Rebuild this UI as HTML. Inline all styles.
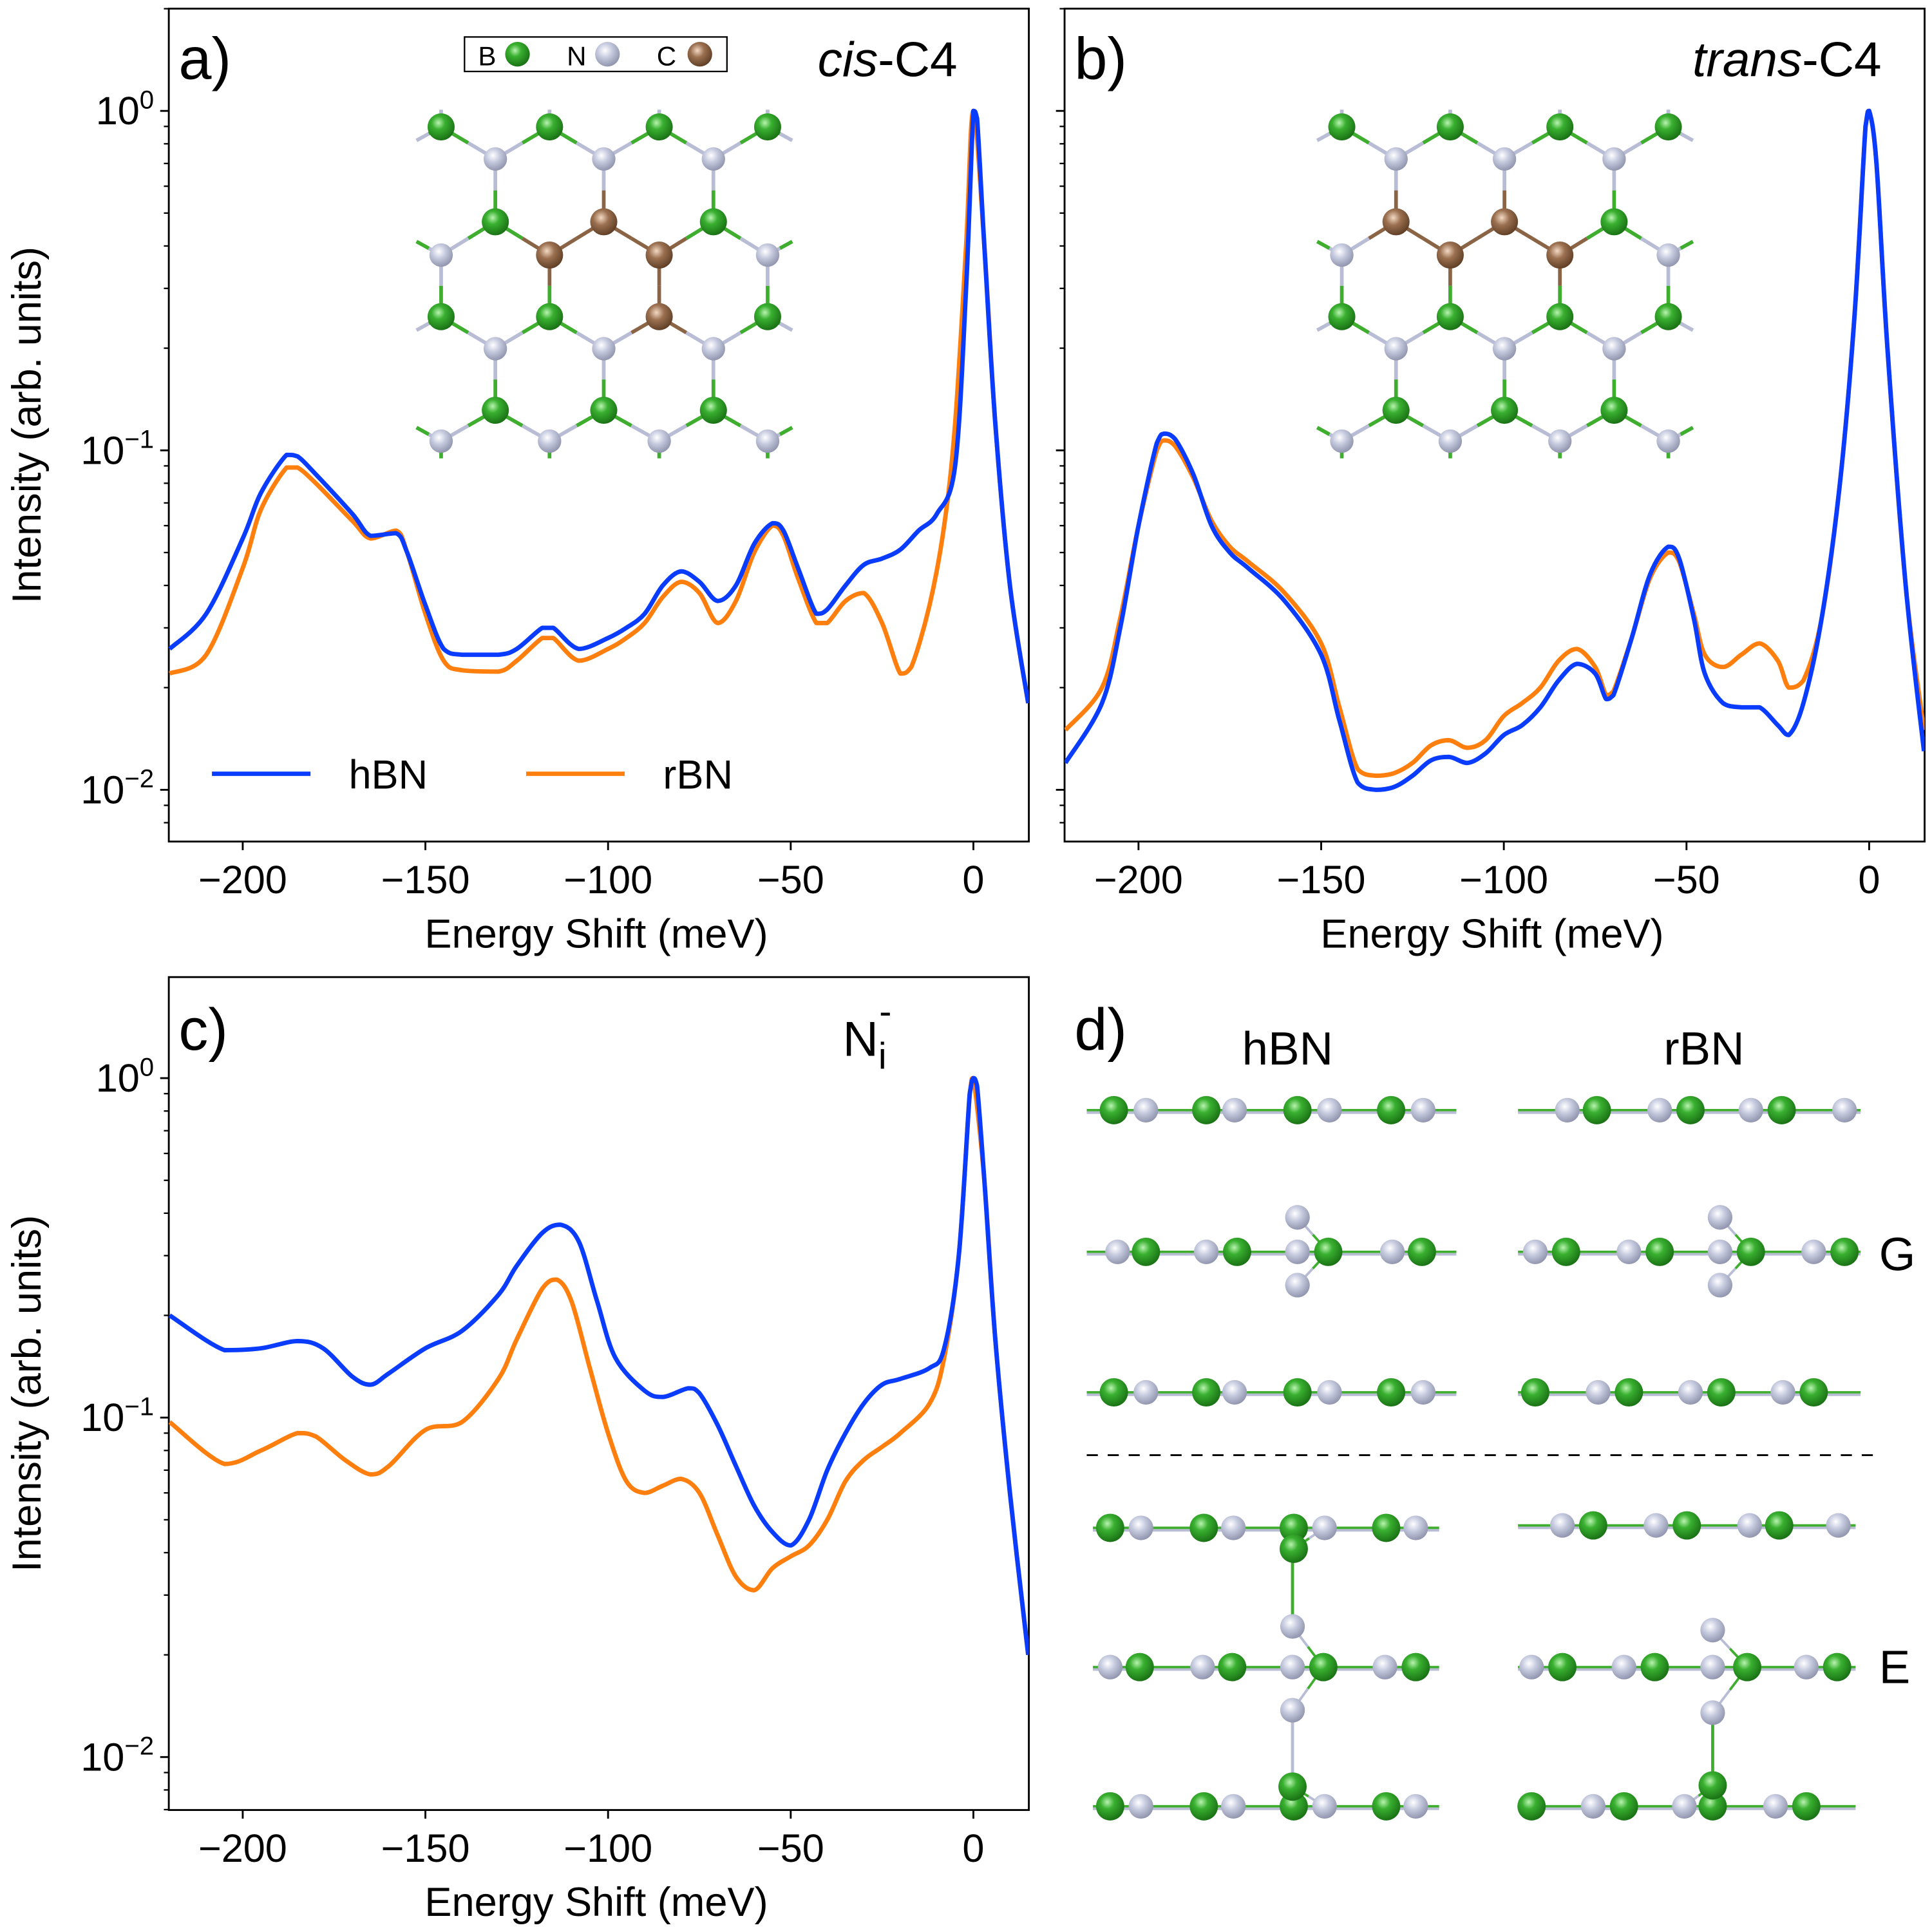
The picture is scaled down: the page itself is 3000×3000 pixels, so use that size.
<!DOCTYPE html>
<html><head><meta charset="utf-8"><style>
html,body{margin:0;padding:0;background:#fff}
svg{display:block;font-family:"Liberation Sans",sans-serif}
</style></head><body>
<svg id="fig" width="3000" height="3000" viewBox="0 0 1568 1568" xmlns="http://www.w3.org/2000/svg">
<defs>
<radialGradient id="gB" cx="0.4" cy="0.35" r="0.7"><stop offset="0" stop-color="#b9f3b0"/><stop offset="0.35" stop-color="#39b030"/><stop offset="1" stop-color="#176b12"/></radialGradient>
<radialGradient id="gN" cx="0.4" cy="0.35" r="0.7"><stop offset="0" stop-color="#ffffff"/><stop offset="0.4" stop-color="#c8cce0"/><stop offset="1" stop-color="#8b8fa8"/></radialGradient>
<radialGradient id="gC" cx="0.4" cy="0.35" r="0.7"><stop offset="0" stop-color="#f3d9c4"/><stop offset="0.4" stop-color="#9b7050"/><stop offset="1" stop-color="#5a3a22"/></radialGradient>
<clipPath id="clipA"><rect x="137" y="7" width="698" height="676"/></clipPath>
<clipPath id="clipB"><rect x="864" y="7" width="698" height="676"/></clipPath>
<clipPath id="clipC"><rect x="137" y="793" width="698" height="676"/></clipPath>
</defs>
<g id="root"></g>
</svg>
<script>
// ---- panel a (cis-C4) ----
const aHX=[-220,-210,-200,-195,-188,-185,-180,-170,-165,-158,-155,-150,-145,-140,-130,-125,-118,-115,-108,-100,-95,-90,-85,-80,-75,-70,-65,-60,-55,-52,-48,-43,-40,-35,-30,-25,-20,-15,-10,-5,-2,0,1,3,6,10,15];
const aHY=[0.026,0.033,0.055,0.075,0.097,0.096,0.085,0.065,0.056,0.057,0.05,0.035,0.026,0.025,0.025,0.026,0.030,0.030,0.026,0.028,0.030,0.033,0.040,0.044,0.041,0.036,0.040,0.053,0.061,0.058,0.045,0.033,0.034,0.040,0.046,0.048,0.051,0.058,0.065,0.09,0.3,1.0,0.95,0.4,0.12,0.04,0.018];
const aRX=[-220,-210,-200,-195,-188,-185,-180,-170,-165,-158,-155,-150,-145,-140,-130,-125,-118,-115,-108,-100,-95,-90,-85,-80,-75,-70,-65,-60,-55,-52,-48,-43,-40,-35,-30,-25,-20,-17,-12,-8,-5,-2,0,3,6,10,15];
const aRY=[0.022,0.025,0.045,0.067,0.089,0.089,0.080,0.062,0.055,0.058,0.05,0.033,0.024,0.0225,0.0223,0.024,0.028,0.028,0.024,0.026,0.028,0.031,0.037,0.041,0.038,0.031,0.036,0.050,0.060,0.056,0.042,0.031,0.031,0.036,0.038,0.031,0.022,0.023,0.035,0.06,0.12,0.4,1.0,0.4,0.12,0.04,0.018];
// ---- panel b (trans-C4) ----
const bX=[-220,-210,-205,-200,-195,-193,-190,-185,-180,-175,-170,-160,-150,-145,-140,-135,-130,-125,-120,-115,-110,-105,-100,-95,-90,-85,-80,-75,-72,-70,-65,-60,-55,-52,-48,-45,-40,-35,-30,-25,-22,-18,-13,-8,-4,-1,0,2,5,10,15];
const bHY=[0.012,0.018,0.03,0.06,0.105,0.112,0.108,0.085,0.060,0.050,0.045,0.036,0.025,0.016,0.0105,0.0100,0.0102,0.0110,0.0122,0.0125,0.0120,0.0128,0.0145,0.0155,0.0175,0.021,0.0235,0.022,0.0185,0.019,0.028,0.043,0.052,0.048,0.032,0.022,0.018,0.0175,0.0175,0.0155,0.0145,0.018,0.032,0.08,0.25,0.9,1.0,0.7,0.2,0.04,0.013];
const bRY=[0.015,0.02,0.032,0.06,0.10,0.107,0.103,0.083,0.062,0.052,0.047,0.038,0.027,0.0175,0.0115,0.011,0.0112,0.012,0.0135,0.014,0.0133,0.014,0.0165,0.018,0.020,0.024,0.026,0.023,0.019,0.0195,0.028,0.042,0.050,0.047,0.033,0.025,0.023,0.025,0.027,0.024,0.020,0.021,0.032,0.08,0.25,0.9,1.0,0.7,0.2,0.04,0.015];
// ---- panel c (Ni-) ----
const cX=[-220,-205,-195,-185,-178,-170,-165,-160,-150,-140,-130,-125,-118,-113,-108,-103,-98,-90,-85,-78,-75,-70,-65,-60,-55,-50,-45,-40,-35,-30,-25,-20,-12,-8,-4,-1,0,1,3,6,10,15];
const cHY=[0.20,0.158,0.16,0.168,0.160,0.132,0.125,0.135,0.160,0.18,0.23,0.28,0.35,0.37,0.33,0.22,0.15,0.12,0.115,0.122,0.118,0.095,0.072,0.055,0.046,0.042,0.05,0.07,0.09,0.11,0.125,0.13,0.14,0.16,0.3,0.9,1.0,0.95,0.5,0.17,0.06,0.02];
const cRX=[-220,-205,-195,-185,-180,-172,-165,-160,-150,-140,-130,-125,-118,-114,-110,-105,-100,-95,-90,-85,-80,-75,-70,-65,-60,-55,-50,-45,-40,-35,-30,-25,-20,-12,-8,-4,-1,0,3,6,10,15];
const cRY=[0.097,0.073,0.08,0.09,0.088,0.075,0.068,0.072,0.092,0.097,0.13,0.17,0.24,0.255,0.22,0.14,0.09,0.065,0.06,0.063,0.066,0.06,0.045,0.034,0.031,0.036,0.039,0.042,0.05,0.065,0.075,0.082,0.09,0.11,0.15,0.3,0.9,1.0,0.5,0.17,0.06,0.02];
const xTicks=[-200,-150,-100,-50,0];
const xTickLabels=["\u2212200","\u2212150","\u2212100","\u221250","0"];
const yDecades=[0,-1,-2];
const yTickLabels=["0","\u22121","\u22122"];

const NS="http://www.w3.org/2000/svg";
const root=document.getElementById('root');
function mk(tag,attrs,parent){const e=document.createElementNS(NS,tag);for(const k in attrs)e.setAttribute(k,attrs[k]);(parent||root).appendChild(e);return e;}
function txt(s,attrs,parent){const e=mk('text',attrs,parent);e.textContent=s;return e;}

function makeAxes(L,T,W,H,x0px,y0px){
  return {L,T,W,H,x:v=>x0px+2.965*v,y:v=>y0px-275.5*Math.log10(v)};
}
function curve(ax,xs,ys,color,clip,name){
  const p=xs.map((v,i)=>[ax.x(v),ax.y(ys[i])]);
  let d=`M${p[0][0].toFixed(2)},${p[0][1].toFixed(2)}`;
  const cl=(v,a,b)=>Math.max(Math.min(a,b),Math.min(Math.max(a,b),v));
  for(let i=0;i<p.length-1;i++){
    const p0=p[i-1]||p[i],p1=p[i],p2=p[i+1],p3=p[i+2]||p[i+1];
    const t=1/6;
    const c1=[p1[0]+(p2[0]-p0[0])*t,cl(p1[1]+(p2[1]-p0[1])*t,p1[1],p2[1])];
    const c2=[p2[0]-(p3[0]-p1[0])*t,cl(p2[1]-(p3[1]-p1[1])*t,p1[1],p2[1])];
    d+=`C${c1[0].toFixed(2)},${c1[1].toFixed(2)} ${c2[0].toFixed(2)},${c2[1].toFixed(2)} ${p2[0].toFixed(2)},${p2[1].toFixed(2)}`;
  }
  const e=mk('path',{d,fill:'none',stroke:color,'stroke-width':3.6,'stroke-linejoin':'round','clip-path':`url(#${clip})`});
  
  
}
function frame(ax,pre,showYLabel){
  const g=mk('g',{});
  
  
  mk('rect',{x:ax.L,y:ax.T,width:ax.W,height:ax.H,fill:'none',stroke:'#000','stroke-width':1.5},g);
  const B=ax.T+ax.H;
  xTicks.forEach((v,i)=>{
    const X=ax.x(v);
    mk('line',{x1:X,y1:B,x2:X,y2:B+7,stroke:'#000','stroke-width':1.5},g);
    const t=txt(xTickLabels[i],{x:X,y:B+42,'font-size':32,'text-anchor':'middle'},g);
    
    
  });
  yDecades.forEach((k,i)=>{
    const Y=ax.y(Math.pow(10,k));
    mk('line',{x1:ax.L,y1:Y,x2:ax.L-7,y2:Y,stroke:'#000','stroke-width':1.5},g);
    if(!showYLabel)return;
    const t=txt('',{x:ax.L-12,y:Y+11,'font-size':32,'text-anchor':'end'},g);
    
    
    const a=document.createElementNS(NS,'tspan');a.textContent='10';t.appendChild(a);
    const b=document.createElementNS(NS,'tspan');b.textContent=yTickLabels[i];b.setAttribute('font-size',21);b.setAttribute('dy',-13);t.appendChild(b);
  });
  for(let k=-3;k<=0;k++)for(let m=2;m<=9;m++){
    const Y=ax.y(m*Math.pow(10,k));
    if(Y<ax.T||Y>B)continue;
    mk('line',{x1:ax.L,y1:Y,x2:ax.L-4,y2:Y,stroke:'#000','stroke-width':1.2},g);
  }
  const xl=txt('Energy Shift (meV)',{x:ax.L+ax.W/2-2,y:B+86,'font-size':33,'text-anchor':'middle'},g);
  
  
  if(showYLabel){
    const yl=txt('Intensity (arb. units)',{x:0,y:0,'font-size':33,'text-anchor':'middle',transform:`translate(33,${ax.T+ax.H/2}) rotate(-90)`},g);
    
    
  }
}
const axA=makeAxes(137,7,698,676,790,90);
const axB=makeAxes(864,7,698,676,1517,90);
const axC=makeAxes(137,793,698,676,790,875);
frame(axA,'panel-a',true);frame(axB,'panel-b',false);frame(axC,'panel-c',true);

const COL={B:'url(#gB)',N:'url(#gN)',C:'url(#gC)'};
const BOND={B:'#3fae2f',N:'#b8bcd4',C:'#8a6444'};
function atom(x,y,t,r,g){const e=mk('circle',{cx:x,cy:y,r:r||10,fill:COL[t]},g);}
function bond(x1,y1,t1,x2,y2,t2,g,w){
  const mx=(x1+x2)/2,my=(y1+y2)/2;
  mk('line',{x1,y1,x2:mx,y2:my,stroke:BOND[t1],'stroke-width':w||3},g);
  mk('line',{x1:mx,y1:my,x2,y2,stroke:BOND[t2],'stroke-width':w||3},g);
}
function lattice(dx,carbons,name){
  const g=mk('g',{});
  
  
  const rowsY=[103,129,180,207,257,283,333,358];
  const xsA=[358,446,535,623],xsB=[402,490,579];
  const atoms=[];
  rowsY.forEach((y,ri)=>{
    const xs=(ri%4===0||ri%4===3)?xsA:xsB;
    const type=(ri%2===0)?'B':'N';
    xs.forEach(x=>atoms.push({x:x+dx,y,t:carbons.includes(`${x},${y}`)?'C':type,ri}));
  });
  atoms.forEach(a=>{
    atoms.forEach(b=>{
      if(b.ri<=a.ri)return;
      const dxp=Math.abs(a.x-b.x),dyp=b.y-a.y;
      if((dxp<3&&dyp>40&&dyp<60&&b.ri===a.ri+1)||(dxp>40&&dxp<50&&dyp>20&&dyp<30&&b.ri===a.ri+1))bond(a.x,a.y,a.t,b.x,b.y,b.t,g);
    });
  });
  atoms.forEach(a=>{
    if(a.ri===0)bond(a.x,a.y,a.t,a.x,a.y-14,'N',g);
    if(a.ri===7)bond(a.x,a.y,a.t,a.x,a.y+14,'B',g);
    if(a.x-dx===358&&(a.ri===0||a.ri===4))bond(a.x,a.y,a.t,a.x-20,a.y+11,'N',g);
    if(a.x-dx===623&&(a.ri===0||a.ri===4))bond(a.x,a.y,a.t,a.x+20,a.y+11,'N',g);
    if(a.x-dx===358&&(a.ri===3||a.ri===7))bond(a.x,a.y,a.t,a.x-20,a.y-11,'B',g);
    if(a.x-dx===623&&(a.ri===3||a.ri===7))bond(a.x,a.y,a.t,a.x+20,a.y-11,'B',g);
  });
  atoms.forEach(a=>atom(a.x,a.y,a.t,a.t==='N'?9.5:11,g));
}
lattice(0,['490,180','446,207','535,207','535,257'],'cis-c4-lattice');
lattice(731,['402,180','490,180','446,207','535,207'],'trans-c4-lattice');

curve(axA,aRX,aRY,'#ff7f0e','clipA','rbn-line-a');
curve(axA,aHX,aHY,'#0a3cff','clipA','hbn-line-a');
curve(axB,bX,bRY,'#ff7f0e','clipB','rbn-line-b');
curve(axB,bX,bHY,'#0a3cff','clipB','hbn-line-b');
curve(axC,cRX,cRY,'#ff7f0e','clipC','rbn-line-c');
curve(axC,cX,cHY,'#0a3cff','clipC','hbn-line-c');

function layer(y,x1,x2,list,extra,name){
  const g=mk('g',{});
  
  
  mk('line',{x1,y1:y,x2,y2:y,stroke:'#3fae2f','stroke-width':2},g);
  mk('line',{x1,y1:y+2,x2,y2:y+2,stroke:'#b8bcd4','stroke-width':2},g);
  (extra||[]).forEach(e=>{list.forEach(a=>{if(Math.abs(a[0]-e[0])<30&&Math.abs(a[0]-e[0])>5)bond(e[0],e[1],e[2],a[0],y,a[1],g,2);});});
  list.forEach(a=>atom(a[0],y,a[1],a[1]==='N'?10:11.5,g));
  (extra||[]).forEach(e=>atom(e[0],e[1],e[2],e[2]==='N'?10:11.5,g));
}
const hL=[[904,'B'],[930,'N'],[979,'B'],[1002,'N'],[1053,'B'],[1079,'N'],[1129,'B'],[1155,'N']];
const hM=[[907,'N'],[930,'B'],[979,'N'],[1004,'B'],[1053,'N'],[1078,'B'],[1130,'N'],[1154,'B']];
layer(901,882,1182,hL,[],'hbn-g-layer-1');
layer(1016,882,1182,hM,[[1053,988,'N'],[1053,1043,'N']],'hbn-g-layer-2');
layer(1130,882,1182,hL,[],'hbn-g-layer-3');
layer(901,1232,1510,[[1272,'N'],[1296,'B'],[1347,'N'],[1372,'B'],[1421,'N'],[1446,'B'],[1497,'N']],[],'rbn-g-layer-1');
layer(1016,1232,1510,[[1246,'N'],[1271,'B'],[1322,'N'],[1347,'B'],[1396,'N'],[1421,'B'],[1472,'N'],[1497,'B']],[[1396,988,'N'],[1396,1043,'N']],'rbn-g-layer-2');
layer(1130,1232,1510,[[1246,'B'],[1297,'N'],[1322,'B'],[1372,'N'],[1397,'B'],[1447,'N'],[1472,'B']],[],'rbn-g-layer-3');
mk('line',{x1:1049,y1:1260,x2:1049,y2:1320,stroke:'#3fae2f','stroke-width':2.5});
mk('line',{x1:1049,y1:1388,x2:1049,y2:1450,stroke:'#b8bcd4','stroke-width':2.5});
mk('line',{x1:1390,y1:1390,x2:1390,y2:1449,stroke:'#3fae2f','stroke-width':2.5});
const hE1=[[901,'B'],[926,'N'],[977,'B'],[1001,'N'],[1050,'B'],[1075,'N'],[1125,'B'],[1149,'N']];
layer(1240,887,1168,hE1,[[1050,1257,'B']],'hbn-e-layer-1');
layer(1353,887,1168,[[901,'N'],[925,'B'],[976,'N'],[1000,'B'],[1049,'N'],[1074,'B'],[1124,'N'],[1149,'B']],[[1049,1320,'N'],[1049,1388,'N']],'hbn-e-layer-2');
layer(1466,887,1168,hE1.map(a=>[a[0],a[1]]),[[1049,1450,'B']],'hbn-e-layer-3');
layer(1238,1232,1506,[[1268,'N'],[1293,'B'],[1344,'N'],[1369,'B'],[1420,'N'],[1444,'B'],[1492,'N']],[],'rbn-e-layer-1');
layer(1353,1232,1506,[[1243,'N'],[1268,'B'],[1318,'N'],[1343,'B'],[1390,'N'],[1418,'B'],[1466,'N'],[1491,'B']],[[1390,1323,'N'],[1390,1390,'N']],'rbn-e-layer-2');
layer(1466,1232,1506,[[1243,'B'],[1293,'N'],[1318,'B'],[1367,'N'],[1390,'B'],[1441,'N'],[1466,'B']],[[1390,1449,'B']],'rbn-e-layer-3');
</script>
<script>
(function(){
const NS="http://www.w3.org/2000/svg";const svg=document.getElementById('fig');
function t(s,a,name){const e=document.createElementNS(NS,'text');for(const k in a)e.setAttribute(k,a[k]);e.innerHTML=s;


svg.appendChild(e);return e;}
t('a)',{x:145,y:64,'font-size':48},'panel-a-label');
t('b)',{x:872,y:64,'font-size':48},'panel-b-label');
t('c)',{x:145,y:852,'font-size':48},'panel-c-label');
t('d)',{x:872,y:852,'font-size':48},'panel-d-label');
t('<tspan font-style="italic">cis</tspan>-C4',{x:777,y:62,'font-size':40,'text-anchor':'end'},'panel-a-title');
t('<tspan font-style="italic">trans</tspan>-C4',{x:1527,y:62,'font-size':40,'text-anchor':'end'},'panel-b-title');
t('N<tspan font-size="30" dy="10">i</tspan><tspan font-size="30" dx="-6" dy="-36">-</tspan>',{x:684,y:857,'font-size':40},'panel-c-title');
t('hBN',{x:1045,y:864,'font-size':38,'text-anchor':'middle'},'hbn-column-title');
t('rBN',{x:1383,y:864,'font-size':38,'text-anchor':'middle'},'rbn-column-title');
t('G',{x:1525,y:1031,'font-size':38},'g-config-label');
t('E',{x:1525,y:1366,'font-size':38},'e-config-label');
const dl=document.createElementNS(NS,'line');
dl.setAttribute('x1',882);dl.setAttribute('y1',1181);dl.setAttribute('x2',1522);dl.setAttribute('y2',1181);
dl.setAttribute('stroke','#000');dl.setAttribute('stroke-width',1.5);dl.setAttribute('stroke-dasharray','9,8');


svg.appendChild(dl);
const lg=document.createElementNS(NS,'g');


svg.appendChild(lg);
lg.innerHTML='<line x1="172" y1="628" x2="252" y2="628" stroke="#0a3cff" stroke-width="3.5"/><text x="283" y="640" font-size="33">hBN</text><line x1="427" y1="628" x2="507" y2="628" stroke="#ff7f0e" stroke-width="3.5"/><text x="538" y="640" font-size="33">rBN</text>';
const al=document.createElementNS(NS,'g');


svg.appendChild(al);
al.innerHTML='<rect x="377" y="30" width="213" height="28" fill="#fff" stroke="#000" stroke-width="1.2"/><text x="388" y="53" font-size="22">B</text><circle cx="420" cy="44" r="10" fill="url(#gB)"/><text x="460" y="53" font-size="22">N</text><circle cx="493" cy="44" r="10" fill="url(#gN)"/><text x="533" y="53" font-size="22">C</text><circle cx="568" cy="44" r="10" fill="url(#gC)"/>';
})();
</script>
</body></html>
